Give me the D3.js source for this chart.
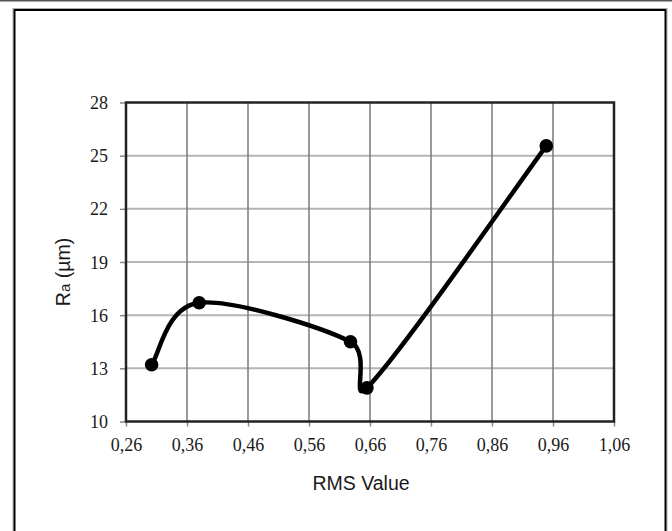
<!DOCTYPE html>
<html>
<head>
<meta charset="utf-8">
<script src="https://cdn.jsdelivr.net/npm/d3@7"></script>
<style>
  body { margin: 0; background: #fff; }
  svg { display: block; }
</style>
</head>
<body>
<div id="chart"></div>
<script>
// RMS value vs surface roughness Ra

var rmsValues = [0.302, 0.380, 0.628, 0.655, 0.949];
var raValues  = [13.2, 16.7, 14.5, 11.9, 25.55];
var xTicks = [0.26, 0.36, 0.46, 0.56, 0.66, 0.76, 0.86, 0.96, 1.06];
var yTicks = [10, 13, 16, 19, 22, 25, 28];

var totwidth = 672,
    totheight = 531,
    plot = {left: 126, right: 614, top: 102.5, bottom: 421.5};

var svg = d3.select("#chart").append("svg")
    .attr("width", totwidth)
    .attr("height", totheight);

// top rule and outer frame
svg.append("line")
    .attr("x1", 0).attr("x2", totwidth)
    .attr("y1", 0.5).attr("y2", 0.5)
    .attr("stroke", "#555").attr("stroke-width", 2);
svg.append("rect")
    .attr("x", 13).attr("y", 8.5)
    .attr("width", 654).attr("height", 540)
    .attr("fill", "none").attr("stroke", "#aaa").attr("stroke-width", 1);
svg.append("rect")
    .attr("x", 14.5).attr("y", 10)
    .attr("width", 651).attr("height", 540)
    .attr("fill", "none").attr("stroke", "#000").attr("stroke-width", 2);

var xVal = d3.scaleLinear().domain([0.26, 1.06]).range([plot.left, plot.right]);
var yVal = d3.scaleLinear().domain([10, 28]).range([plot.bottom, plot.top]);

// grid
svg.append("g").selectAll("line")
    .data(yTicks.slice(1, -1))
    .enter().append("line")
    .attr("x1", plot.left).attr("x2", plot.right)
    .attr("y1", function(d) { return yVal(d); })
    .attr("y2", function(d) { return yVal(d); })
    .attr("stroke", "#b4b4b4").attr("stroke-width", 2);
svg.append("g").selectAll("line")
    .data(xTicks.slice(1, -1))
    .enter().append("line")
    .attr("x1", function(d) { return xVal(d); })
    .attr("x2", function(d) { return xVal(d); })
    .attr("y1", plot.top).attr("y2", plot.bottom)
    .attr("stroke", "#7a7a7a").attr("stroke-width", 1.5);

// axes
var fmt = function(d) { return d3.format(".2f")(d).replace(".", ","); };

var xAxis = svg.append("g")
    .attr("transform", "translate(0," + plot.bottom + ")")
    .call(d3.axisBottom(xVal).tickValues(xTicks).tickFormat(fmt).tickSizeInner(5).tickSizeOuter(0).tickPadding(12));
var yAxis = svg.append("g")
    .attr("transform", "translate(" + plot.left + ",0)")
    .call(d3.axisLeft(yVal).tickValues(yTicks).tickSizeInner(6).tickSizeOuter(0).tickPadding(12));

[xAxis, yAxis].forEach(function(ax) {
  ax.select(".domain").remove();
  ax.selectAll(".tick line").attr("stroke", "#888").attr("stroke-width", 1.5);
  ax.selectAll("text")
    .attr("fill", "#1a1a1a")
    .style("font-family", "'Liberation Serif', 'Times New Roman', serif")
    .style("font-size", "18px");
});
yAxis.selectAll("text").attr("dy", "0.34em");

// plot border
svg.append("rect")
    .attr("x", plot.left).attr("y", plot.top)
    .attr("width", plot.right - plot.left).attr("height", plot.bottom - plot.top)
    .attr("fill", "none").attr("stroke", "#222").attr("stroke-width", 2.5);

// spreadsheet-style smoothing: bezier arms = (next - prev)/6,
// clamped to half of the segment they belong to
function curveSmooth(context) {
  var pts;
  return {
    areaStart: function() {}, areaEnd: function() {},
    lineStart: function() { pts = []; },
    point: function(x, y) { pts.push([x, y]); },
    lineEnd: function() {
      var n = pts.length;
      if (!n) return;
      function arm(i, segLen) {
        var a = pts[Math.max(i - 1, 0)], b = pts[Math.min(i + 1, n - 1)];
        var dx = (b[0] - a[0]) / 6, dy = (b[1] - a[1]) / 6;
        var len = Math.hypot(dx, dy), lim = segLen / 2;
        if (len > lim && len > 0) { dx *= lim / len; dy *= lim / len; }
        return [dx, dy];
      }
      context.moveTo(pts[0][0], pts[0][1]);
      for (var i = 0; i < n - 1; i++) {
        var p = pts[i], q = pts[i + 1];
        var seg = Math.hypot(q[0] - p[0], q[1] - p[1]);
        var a1 = arm(i, seg), a2 = arm(i + 1, seg);
        context.bezierCurveTo(p[0] + a1[0], p[1] + a1[1], q[0] - a2[0], q[1] - a2[1], q[0], q[1]);
      }
    }
  };
}

// smoothed line + markers
var pts = rmsValues.map(function(v, i) { return [v, raValues[i]]; });
var line = d3.line()
    .x(function(d) { return xVal(d[0]); })
    .y(function(d) { return yVal(d[1]); })
    .curve(curveSmooth);

svg.append("path")
    .datum(pts)
    .attr("d", line)
    .attr("fill", "none").attr("stroke", "#000").attr("stroke-width", 4.5)
    .attr("stroke-linejoin", "round");

svg.append("g").selectAll("circle")
    .data(pts)
    .enter().append("circle")
    .attr("cx", function(d) { return xVal(d[0]); })
    .attr("cy", function(d) { return yVal(d[1]); })
    .attr("r", 6.8)
    .attr("fill", "#000");

// axis titles
svg.append("text")
    .attr("x", 361)
    .attr("y", 490)
    .attr("text-anchor", "middle")
    .style("font-family", "'Liberation Sans', Arial, sans-serif")
    .style("font-size", "19.5px")
    .attr("fill", "#1a1a1a")
    .text("RMS Value");

var yTitle = svg.append("text")
    .attr("transform", "translate(70,272) rotate(-90)")
    .attr("text-anchor", "middle")
    .style("font-family", "'Liberation Sans', Arial, sans-serif")
    .style("font-size", "19.5px")
    .attr("fill", "#1a1a1a");
yTitle.append("tspan").text("R");
yTitle.append("tspan").style("font-size", "15px").text("a");
yTitle.append("tspan").text(" (\u00b5m)");
</script>
</body>
</html>
